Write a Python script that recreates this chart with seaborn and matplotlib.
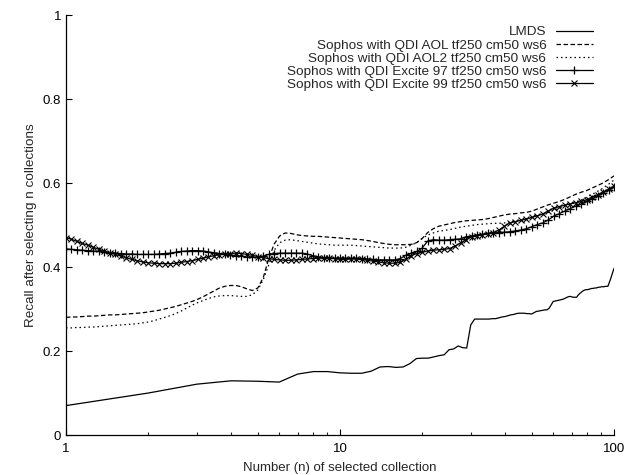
import matplotlib
matplotlib.use("Agg")
import matplotlib.pyplot as plt
from matplotlib.ticker import LogLocator, NullFormatter, FixedLocator, FixedFormatter
import pandas as pd
import seaborn as sns

# LMDS: recall measured at every integer n
lmds_n = list(range(1, 101))
lmds_recall = [
    0.070, 0.100, 0.121, 0.129, 0.128, 0.126, 0.145, 0.151, 0.151, 0.148,
    0.147, 0.147, 0.152, 0.162, 0.163, 0.161, 0.162, 0.170, 0.182, 0.183,
    0.183, 0.186, 0.189, 0.191, 0.203, 0.205, 0.212, 0.208, 0.207, 0.262,
    0.276, 0.276, 0.276, 0.276, 0.276, 0.277, 0.277, 0.279, 0.281, 0.282,
    0.284, 0.286, 0.287, 0.289, 0.290, 0.290, 0.290, 0.289, 0.289, 0.288,
    0.291, 0.294, 0.295, 0.296, 0.297, 0.298, 0.298, 0.302, 0.310, 0.318,
    0.319, 0.320, 0.321, 0.322, 0.323, 0.325, 0.327, 0.329, 0.330, 0.329,
    0.328, 0.328, 0.328, 0.333, 0.337, 0.340, 0.343, 0.345, 0.346, 0.346,
    0.347, 0.348, 0.349, 0.349, 0.350, 0.350, 0.351, 0.352, 0.352, 0.353,
    0.353, 0.353, 0.354, 0.354, 0.354, 0.362, 0.370, 0.379, 0.388, 0.397,
]

# Sophos runs: smoothed curves sampled at 50 points per decade
sample_n = [
    1.000, 1.047, 1.096, 1.148, 1.202, 1.259, 1.318, 1.380, 1.445, 1.514,
    1.585, 1.660, 1.738, 1.820, 1.905, 1.995, 2.089, 2.188, 2.291, 2.399,
    2.512, 2.630, 2.754, 2.884, 3.020, 3.162, 3.311, 3.467, 3.631, 3.802,
    3.981, 4.169, 4.365, 4.571, 4.786, 5.012, 5.248, 5.495, 5.754, 6.026,
    6.310, 6.607, 6.918, 7.244, 7.586, 7.943, 8.318, 8.710, 9.120, 9.550,
    10.00, 10.47, 10.96, 11.48, 12.02, 12.59, 13.18, 13.80, 14.45, 15.14,
    15.85, 16.60, 17.38, 18.20, 19.05, 19.95, 20.89, 21.88, 22.91, 23.99,
    25.12, 26.30, 27.54, 28.84, 30.20, 31.62, 33.11, 34.67, 36.31, 38.02,
    39.81, 41.69, 43.65, 45.71, 47.86, 50.12, 52.48, 54.95, 57.54, 60.26,
    63.10, 66.07, 69.18, 72.44, 75.86, 79.43, 83.18, 87.10, 91.20, 95.50,
    100.0,
]

aol_recall = [
    0.280, 0.281, 0.281, 0.282, 0.283, 0.283, 0.284, 0.285, 0.286, 0.286,
    0.287, 0.288, 0.289, 0.290, 0.291, 0.293, 0.295, 0.297, 0.300, 0.303,
    0.306, 0.310, 0.314, 0.318, 0.323, 0.329, 0.336, 0.343, 0.350, 0.354,
    0.356, 0.356, 0.353, 0.348, 0.344, 0.350, 0.375, 0.420, 0.455, 0.474,
    0.481, 0.480, 0.477, 0.475, 0.474, 0.473, 0.473, 0.472, 0.471, 0.470,
    0.469, 0.468, 0.467, 0.466, 0.465, 0.463, 0.461, 0.458, 0.456, 0.454,
    0.453, 0.453, 0.453, 0.454, 0.458, 0.468, 0.482, 0.491, 0.497, 0.500,
    0.503, 0.506, 0.508, 0.510, 0.511, 0.512, 0.513, 0.515, 0.518, 0.521,
    0.524, 0.526, 0.527, 0.529, 0.530, 0.533, 0.538, 0.543, 0.548, 0.552,
    0.556, 0.561, 0.567, 0.573, 0.578, 0.582, 0.588, 0.594, 0.600, 0.608,
    0.617,
]

aol2_recall = [
    0.255, 0.255, 0.256, 0.256, 0.257, 0.257, 0.258, 0.259, 0.260, 0.261,
    0.262, 0.263, 0.264, 0.265, 0.267, 0.269, 0.272, 0.276, 0.280, 0.284,
    0.289, 0.295, 0.302, 0.309, 0.315, 0.320, 0.325, 0.329, 0.331, 0.332,
    0.332, 0.331, 0.330, 0.330, 0.334, 0.345, 0.370, 0.405, 0.440, 0.458,
    0.464, 0.465, 0.463, 0.461, 0.459, 0.457, 0.455, 0.454, 0.453, 0.452,
    0.452, 0.452, 0.452, 0.451, 0.450, 0.449, 0.448, 0.447, 0.446, 0.445,
    0.445, 0.445, 0.447, 0.452, 0.458, 0.468, 0.476, 0.481, 0.485, 0.487,
    0.489, 0.492, 0.495, 0.497, 0.499, 0.501, 0.502, 0.503, 0.504, 0.504,
    0.505, 0.507, 0.510, 0.512, 0.515, 0.519, 0.523, 0.527, 0.530, 0.535,
    0.540, 0.545, 0.550, 0.555, 0.560, 0.566, 0.573, 0.580, 0.588, 0.597,
    0.607,
]

excite97_recall = [
    0.443, 0.442, 0.441, 0.440, 0.439, 0.438, 0.437, 0.435, 0.434, 0.433,
    0.432, 0.431, 0.431, 0.430, 0.430, 0.430, 0.430, 0.431, 0.432, 0.433,
    0.435, 0.437, 0.438, 0.439, 0.439, 0.438, 0.436, 0.434, 0.432, 0.431,
    0.429, 0.427, 0.426, 0.424, 0.423, 0.423, 0.426, 0.430, 0.432, 0.433,
    0.433, 0.433, 0.433, 0.433, 0.431, 0.427, 0.424, 0.422, 0.421, 0.421,
    0.421, 0.421, 0.421, 0.421, 0.420, 0.419, 0.418, 0.417, 0.417, 0.417,
    0.417, 0.420, 0.428, 0.433, 0.437, 0.445, 0.462, 0.465, 0.464, 0.464,
    0.465, 0.466, 0.467, 0.472, 0.474, 0.476, 0.478, 0.480, 0.481, 0.482,
    0.483, 0.484, 0.486, 0.488, 0.491, 0.496, 0.501, 0.505, 0.512, 0.521,
    0.527, 0.533, 0.539, 0.545, 0.550, 0.556, 0.562, 0.569, 0.576, 0.583,
    0.590,
]

excite99_recall = [
    0.470, 0.466, 0.461, 0.456, 0.452, 0.447, 0.442, 0.438, 0.434, 0.430,
    0.426, 0.422, 0.418, 0.415, 0.412, 0.410, 0.409, 0.408, 0.408, 0.408,
    0.409, 0.411, 0.413, 0.415, 0.418, 0.421, 0.424, 0.427, 0.429, 0.431,
    0.432, 0.433, 0.432, 0.430, 0.428, 0.425, 0.422, 0.420, 0.418, 0.417,
    0.416, 0.416, 0.417, 0.418, 0.419, 0.420, 0.421, 0.422, 0.422, 0.420,
    0.418, 0.418, 0.419, 0.419, 0.418, 0.416, 0.414, 0.412, 0.410, 0.409,
    0.409, 0.411, 0.418, 0.427, 0.432, 0.435, 0.438, 0.440, 0.441, 0.442,
    0.444, 0.450, 0.457, 0.465, 0.472, 0.475, 0.477, 0.479, 0.482, 0.488,
    0.497, 0.505, 0.508, 0.511, 0.514, 0.518, 0.522, 0.526, 0.533, 0.540,
    0.544, 0.547, 0.550, 0.553, 0.556, 0.560, 0.566, 0.572, 0.578, 0.585,
    0.592,
]

series_labels = [
    "LMDS",
    "Sophos with QDI AOL tf250 cm50 ws6",
    "Sophos with QDI AOL2 tf250 cm50 ws6",
    "Sophos with QDI Excite 97 tf250 cm50 ws6",
    "Sophos with QDI Excite 99 tf250 cm50 ws6",
]

x_ticks = [1, 10, 100]
x_tick_labels = ["1", "10", "100"]
y_ticks = [0, 0.2, 0.4, 0.6, 0.8, 1.0]
y_tick_labels = ["0", "0.2", "0.4", "0.6", "0.8", "1"]

sns.set_style("ticks")
plt.rcParams["font.family"] = ["Liberation Sans", "DejaVu Sans"]

fig = plt.figure(figsize=(6.36, 4.75), dpi=100)
ax = fig.add_axes([66 / 636, 40 / 475, 548 / 636, 420 / 475])

lmds_df = pd.DataFrame({"n": lmds_n, "recall": lmds_recall})
sophos_df = pd.DataFrame({
    "n": sample_n,
    "aol": aol_recall,
    "aol2": aol2_recall,
    "excite97": excite97_recall,
    "excite99": excite99_recall,
})

lw = 0.9
sns.lineplot(data=lmds_df, x="n", y="recall", ax=ax, color="black",
             lw=lw, label=series_labels[0])
sns.lineplot(data=sophos_df, x="n", y="aol", ax=ax, color="black",
             lw=lw, linestyle=(0, (3.6, 2.0)), label=series_labels[1])
sns.lineplot(data=sophos_df, x="n", y="aol2", ax=ax, color="black",
             lw=lw, linestyle=(0, (1.2, 2.4)), label=series_labels[2])
sns.lineplot(data=sophos_df, x="n", y="excite97", ax=ax, color="black",
             lw=lw, marker="+", ms=5.5, mew=0.9, mec="black",
             label=series_labels[3])
sns.lineplot(data=sophos_df, x="n", y="excite99", ax=ax, color="black",
             lw=lw, marker="x", ms=3.8, mew=0.8, mec="black",
             label=series_labels[4])

ax.set_xscale("log")
ax.set_xlim(1, 100)
ax.set_ylim(0, 1)

ax.xaxis.set_major_locator(FixedLocator(x_ticks))
ax.xaxis.set_major_formatter(FixedFormatter(x_tick_labels))
ax.xaxis.set_minor_locator(LogLocator(base=10, subs=range(2, 10)))
ax.xaxis.set_minor_formatter(NullFormatter())
ax.yaxis.set_major_locator(FixedLocator(y_ticks))
ax.yaxis.set_major_formatter(FixedFormatter(y_tick_labels))

ax.tick_params(which="major", direction="in", length=4.3, width=0.8,
               labelsize=9.5, colors="black")
ax.tick_params(axis="x", which="major", pad=5.5)
ax.tick_params(axis="y", which="major", pad=3.5)
ax.tick_params(which="minor", direction="in", length=2.2, width=0.8)

for side in ("top", "right"):
    ax.spines[side].set_visible(False)
for side in ("left", "bottom"):
    ax.spines[side].set_linewidth(0.9)
    ax.spines[side].set_color("black")

ax.set_xlabel("Number (n) of selected collection", fontsize=9.5, labelpad=5)
ax.set_ylabel("Recall after selecting n collections", fontsize=9.7, labelpad=4)

handles, labels = ax.get_legend_handles_labels()
ax.legend(handles, labels, loc="upper right",
          bbox_to_anchor=((593 - 66) / 548, (435 - 26) / 420),
          frameon=False, markerfirst=False, fontsize=9.7,
          handlelength=2.75, handletextpad=0.72, labelspacing=0.05,
          borderpad=0, borderaxespad=0, numpoints=1)

fig.savefig("out.png", dpi=100)
